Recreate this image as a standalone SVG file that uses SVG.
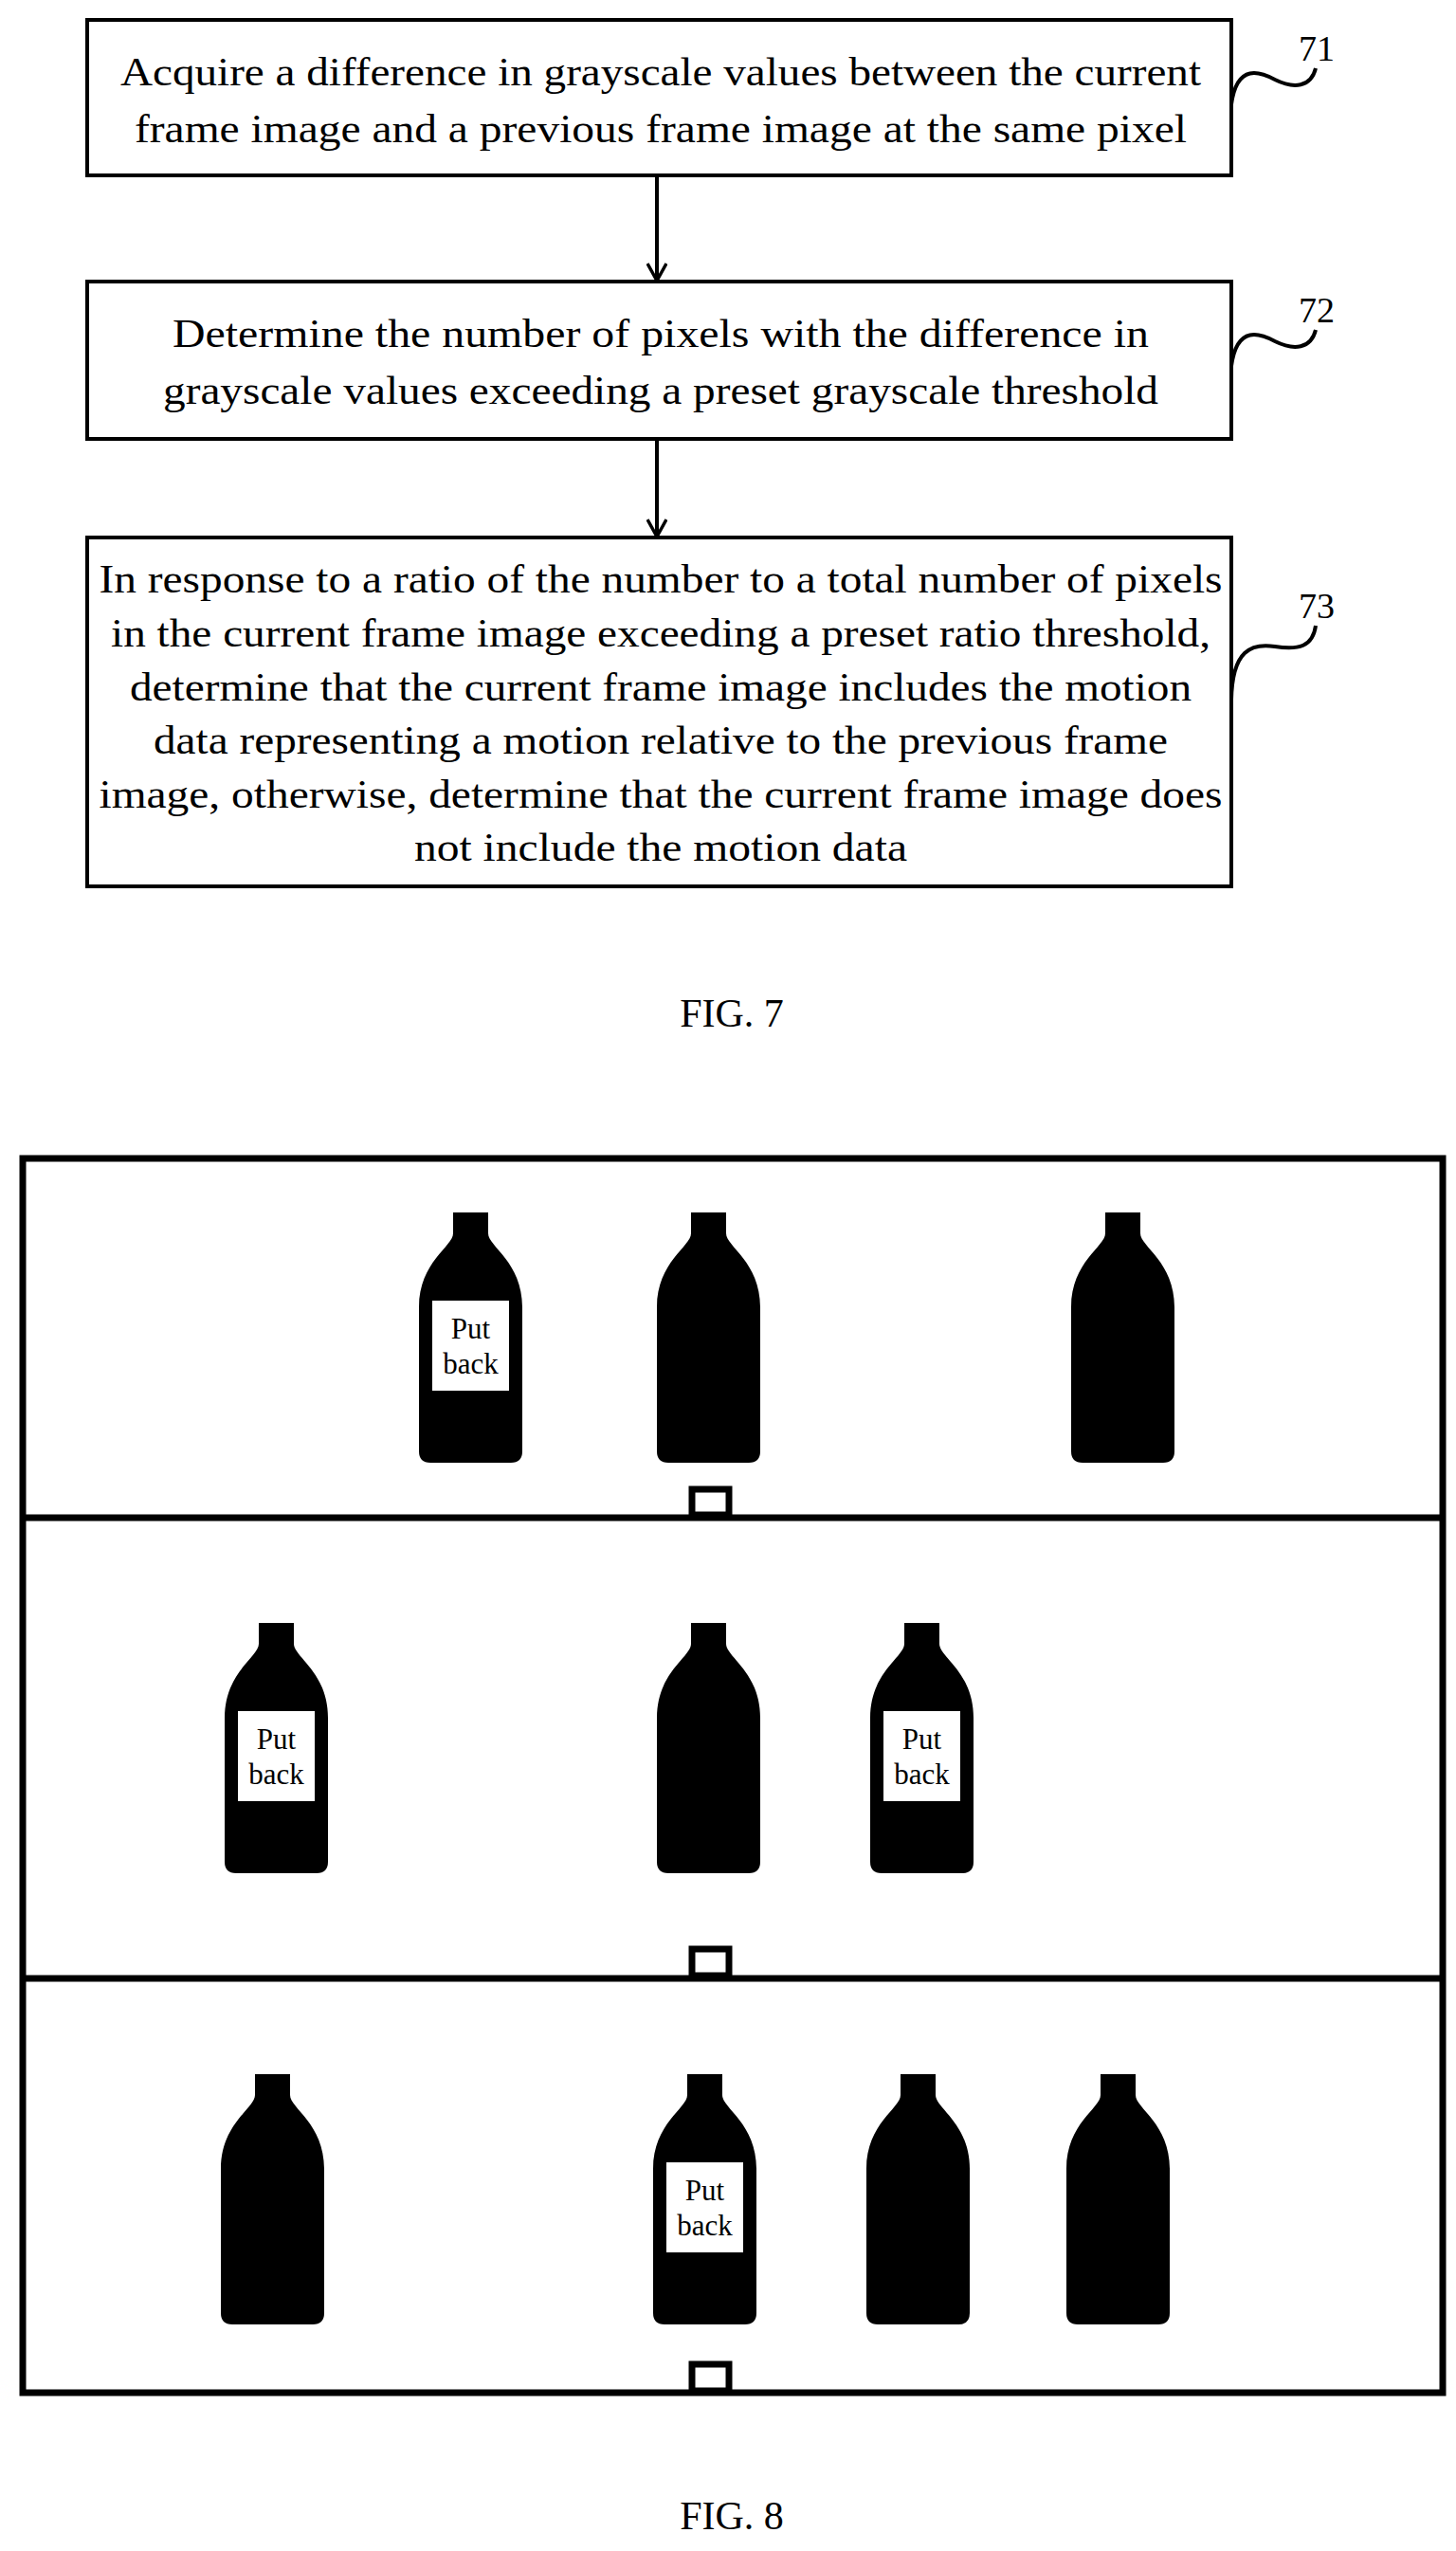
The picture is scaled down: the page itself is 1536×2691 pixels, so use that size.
<svg xmlns="http://www.w3.org/2000/svg" width="1536" height="2691" viewBox="0 0 1536 2691">
<style>
.box{fill:#fff;stroke:#000;stroke-width:4}
.t{font-family:"Liberation Serif","Times New Roman",serif;font-size:42px;fill:#000;text-anchor:middle}
.n{font-family:"Liberation Serif","Times New Roman",serif;font-size:38px;fill:#000}
.sq{fill:none;stroke:#000;stroke-width:4}
.ln{stroke:#000;stroke-width:4;fill:none}
.lb{font-family:"Liberation Serif","Times New Roman",serif;font-size:31px;fill:#000;text-anchor:middle}
</style>
<defs>
<marker id="ah" markerWidth="22" markerHeight="22" refX="19" refY="11" orient="auto" markerUnits="userSpaceOnUse" viewBox="0 0 22 22">
<path d="M1,1 L19,11 L1,21" fill="none" stroke="#000" stroke-width="3.5"/>
</marker>
<path id="bottle" d="M36,0 H73 V22 C73,36 109,52 109,100 V252 Q109,264 97,264 H12 Q0,264 0,252 V100 C0,52 36,36 36,22 Z" fill="#000"/>
<g id="lbl">
<use href="#bottle"/>
<rect x="14" y="93" width="81" height="95" fill="#fff"/>
<text class="lb" x="54.5" y="133">Put</text>
<text class="lb" x="54.5" y="170">back</text>
</g>
</defs>
<g id="connectors">
<line class="ln" x1="693" y1="185" x2="693" y2="296" marker-end="url(#ah)"/>
<line class="ln" x1="693" y1="463" x2="693" y2="566" marker-end="url(#ah)"/>
<path class="sq" d="M1299,110 C1305,66 1330,76 1345,84 C1365,94 1383,92 1388,72"/>
<path class="sq" d="M1299,386 C1305,342 1330,352 1345,360 C1365,370 1383,368 1388,348"/>
<path class="sq" d="M1299,738 C1300,686 1320,678 1345,682 C1370,686 1385,682 1388,660"/>
</g>
<g id="n71">
<rect class="box" x="92" y="21" width="1207" height="164"/>
<text class="t" x="697" y="90" textLength="1140" lengthAdjust="spacingAndGlyphs">Acquire a difference in grayscale values between the current</text>
<text class="t" x="697" y="150" textLength="1110" lengthAdjust="spacingAndGlyphs">frame image and a previous frame image at the same pixel</text>
<text class="n" x="1370" y="64">71</text>
</g>
<g id="n72">
<rect class="box" x="92" y="297" width="1207" height="166"/>
<text class="t" x="697" y="366" textLength="1030" lengthAdjust="spacingAndGlyphs">Determine the number of pixels with the difference in</text>
<text class="t" x="697" y="426" textLength="1050" lengthAdjust="spacingAndGlyphs">grayscale values exceeding a preset grayscale threshold</text>
<text class="n" x="1370" y="340">72</text>
</g>
<g id="n73">
<rect class="box" x="92" y="567" width="1207" height="368"/>
<text class="t" x="697" y="625" textLength="1185" lengthAdjust="spacingAndGlyphs">In response to a ratio of the number to a total number of pixels</text>
<text class="t" x="697" y="682" textLength="1160" lengthAdjust="spacingAndGlyphs">in the current frame image exceeding a preset ratio threshold,</text>
<text class="t" x="697" y="739" textLength="1120" lengthAdjust="spacingAndGlyphs">determine that the current frame image includes the motion</text>
<text class="t" x="697" y="795" textLength="1070" lengthAdjust="spacingAndGlyphs">data representing a motion relative to the previous frame</text>
<text class="t" x="697" y="852" textLength="1185" lengthAdjust="spacingAndGlyphs">image, otherwise, determine that the current frame image does</text>
<text class="t" x="697" y="908" textLength="520" lengthAdjust="spacingAndGlyphs">not include the motion data</text>
<text class="n" x="1370" y="652">73</text>
</g>
<text class="t" x="772" y="1083">FIG. 7</text>
<g id="fig8">
<rect x="24" y="1222" width="1498" height="1302" fill="none" stroke="#000" stroke-width="7"/>
<line x1="24" y1="1601" x2="1522" y2="1601" stroke="#000" stroke-width="7"/>
<line x1="24" y1="2087" x2="1522" y2="2087" stroke="#000" stroke-width="7"/>
<rect x="730" y="1571" width="39" height="27" fill="#fff" stroke="#000" stroke-width="7"/>
<rect x="730" y="2056" width="39" height="28" fill="#fff" stroke="#000" stroke-width="7"/>
<rect x="730" y="2494" width="39" height="28" fill="#fff" stroke="#000" stroke-width="7"/>
<use href="#lbl" x="442" y="1279"/>
<use href="#bottle" x="693" y="1279"/>
<use href="#bottle" x="1130" y="1279"/>
<use href="#lbl" x="237" y="1712"/>
<use href="#bottle" x="693" y="1712"/>
<use href="#lbl" x="918" y="1712"/>
<use href="#bottle" x="233" y="2188"/>
<use href="#lbl" x="689" y="2188"/>
<use href="#bottle" x="914" y="2188"/>
<use href="#bottle" x="1125" y="2188"/>
</g>
<text class="t" x="772" y="2668">FIG. 8</text>
</svg>
